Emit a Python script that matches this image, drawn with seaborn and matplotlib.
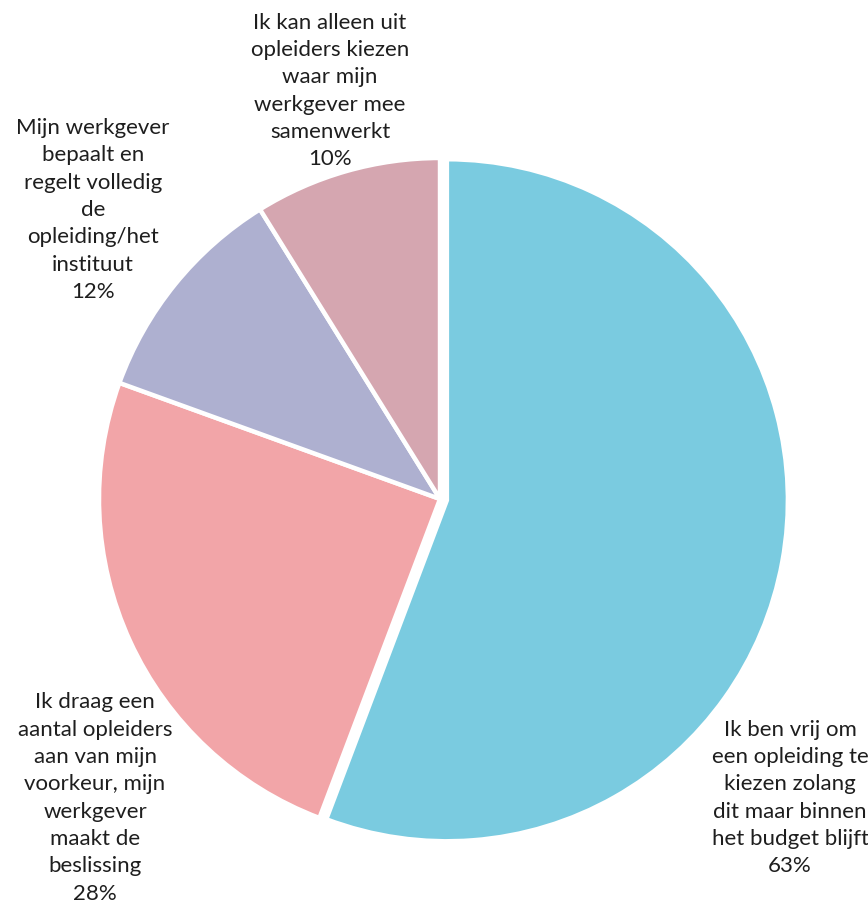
import matplotlib
matplotlib.use("Agg")
import matplotlib.pyplot as plt
import seaborn as sns

sns.set_theme(style="white")
plt.rcParams["font.family"] = ["Lato", "DejaVu Sans"]

# Survey answers (clockwise from 12 o'clock) and their reported shares
categories = [
    "Ik ben vrij om\neen opleiding te\nkiezen zolang\ndit maar binnen\nhet budget blijft",
    "Ik draag een\naantal opleiders\naan van mijn\nvoorkeur, mijn\nwerkgever\nmaakt de\nbeslissing",
    "Mijn werkgever\nbepaalt en\nregelt volledig\nde\nopleiding/het\ninstituut",
    "Ik kan alleen uit\nopleiders kiezen\nwaar mijn\nwerkgever mee\nsamenwerkt",
]
shares = [63, 28, 12, 10]
colors = ["#7ACBE0", "#F2A5A8", "#AEB0D0", "#D5A6B0"]

# Label anchor points in pixel space (x, y from bottom)
label_xy = [(790, 114), (95, 114), (93, 702), (330, 821)]

W, H = 868, 912
fig = plt.figure(figsize=(W / 100, H / 100), dpi=100)
ax = fig.add_axes([0, 0, 1, 1])

ax.pie(
    shares,
    colors=colors,
    startangle=90,
    counterclock=False,
    center=(440, H - 500),
    radius=341,
    explode=[7, 0, 0, 0],
    wedgeprops=dict(edgecolor="white", linewidth=3.2),
    frame=True,
)
ax.set_xlim(0, W)
ax.set_ylim(0, H)
ax.set_axis_off()

for text, share, (x, y) in zip(categories, shares, label_xy):
    ax.text(x, y, f"{text}\n{share}%", ha="center", va="center",
            fontsize=16, color="#1E1E1E", linespacing=1.46)

fig.savefig("out.png", dpi=100)
